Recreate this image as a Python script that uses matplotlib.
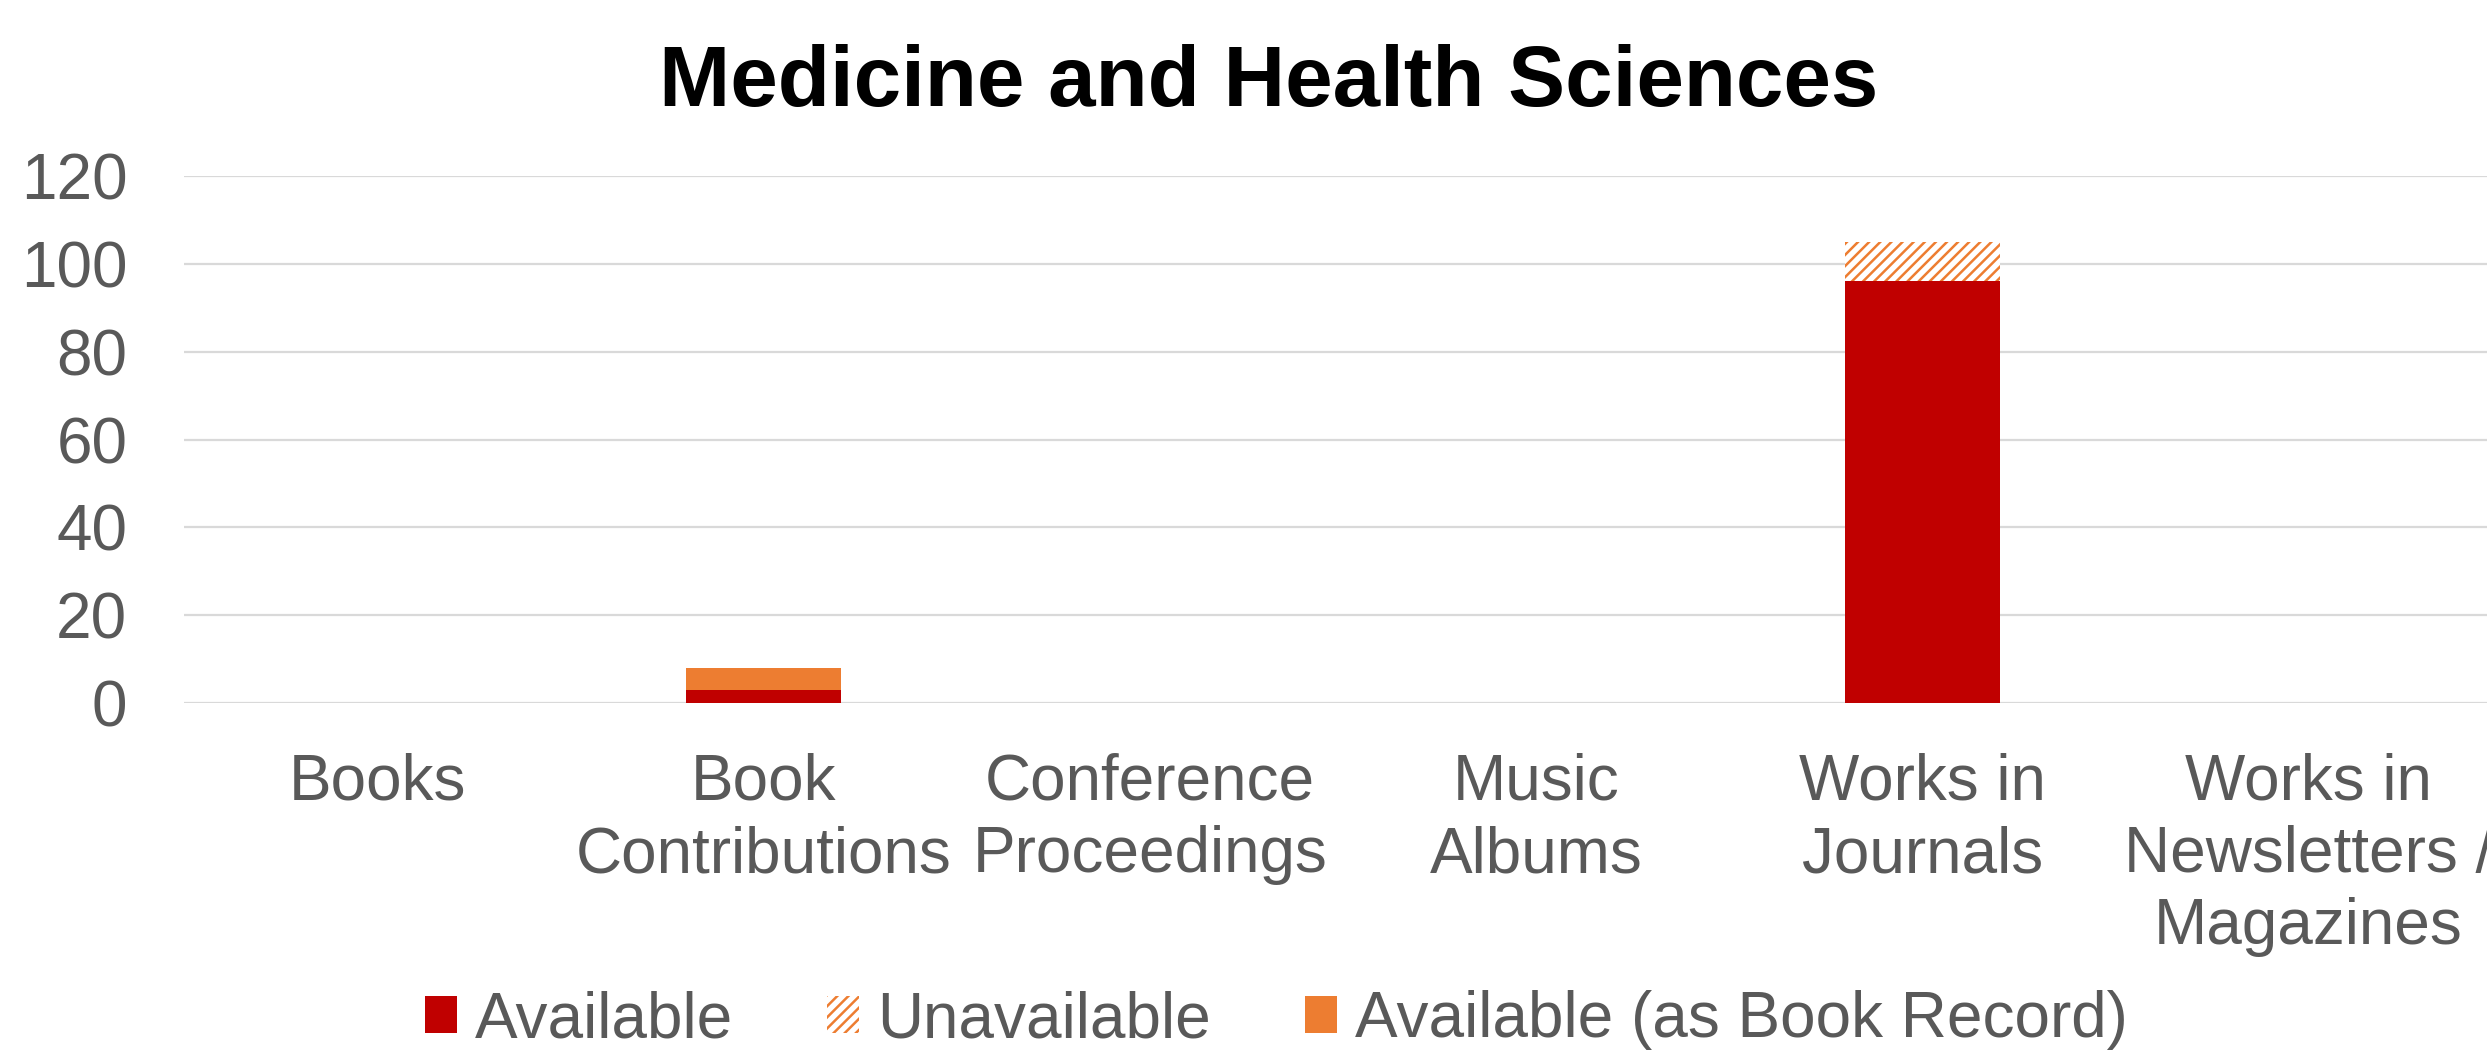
import matplotlib
matplotlib.use("Agg")
import matplotlib.pyplot as plt
import numpy as np

categories = ["Books", "Book\nContributions", "Conference\nProceedings", "Music\nAlbums",
              "Works in\nJournals", "Works in\nNewsletters /\nMagazines"]
available = [0, 3, 0, 0, 96, 0]
unavailable = [0, 0, 0, 0, 9, 0]
book_record = [0, 5, 0, 0, 0, 0]
yticks = [0, 20, 40, 60, 80, 100, 120]
title = "Medicine and Health Sciences"

plt.rcParams['font.family'] = ['Liberation Sans', 'DejaVu Sans']
plt.rcParams['hatch.linewidth'] = 1.8

W, H = 2487, 1050
fig = plt.figure(figsize=(W / 100, H / 100), dpi=100)
ax = fig.add_axes([184.2 / W, (H - 703) / H, 2317.2 / W, 527 / H])

x = np.arange(len(categories))
bw = 0.401
a = np.array(available)
u = np.array(unavailable)
b = np.array(book_record)
ax.bar(x, a, bw, color='#C00000', linewidth=0, label='Available', zorder=3)
ax.bar(x, u, bw, bottom=a, facecolor='white', edgecolor='#ED7D31', hatch='///',
       linewidth=0, label='Unavailable', zorder=3)
ax.bar(x, b, bw, bottom=a + u, color='#ED7D31', linewidth=0,
       label='Available (as Book Record)', zorder=3)

ax.set_xlim(-0.5, len(categories) - 0.5)
ax.set_ylim(0, 120)
ax.set_yticks(yticks)
ax.set_xticks(x)
ax.set_xticklabels(categories, multialignment='center', linespacing=1.26)
for s in ax.spines.values():
    s.set_visible(False)
ax.yaxis.grid(True, color='#d9d9d9', linewidth=1.6, zorder=0)
ax.set_axisbelow(True)
ax.tick_params(axis='both', length=0, labelsize=46, labelcolor='#595959')
ax.tick_params(axis='x', pad=36)
ax.tick_params(axis='y', pad=41)

fig.text(1269 / W, 1 - 106 / H, title, ha='center', va='baseline',
         fontsize=61.5, fontweight='bold', color='black')

leg = fig.legend(loc='center', bbox_to_anchor=(1276.5 / W, 1 - 1020 / H), ncol=3,
                 frameon=False, fontsize=46, handlelength=0.5, handleheight=0.5,
                 handletextpad=0.28, columnspacing=1.47, borderpad=0)
for t in leg.get_texts():
    t.set_color('#595959')

fig.savefig("out.png", dpi=100)
